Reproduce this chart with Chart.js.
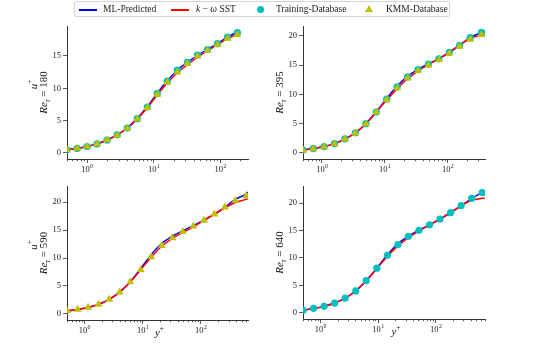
<!DOCTYPE html>
<html>
<head>
<meta charset="utf-8">
<script src="https://cdn.jsdelivr.net/npm/chart.js@4.4.1/dist/chart.umd.min.js"></script>
<style>
  body { margin: 0; background: #fff; }
  #wrap { position: relative; width: 538px; height: 346px; font-family: "Liberation Serif", serif; }
  #wrap canvas { position: absolute; left: 0; top: 0; }
  #legend { position: absolute; left: 74px; top: 1px; width: 374px; height: 14px; border: 1px solid #d4d4d4; border-radius: 2px; font-size: 9.5px; color: #222; }
  #legend .it { position: absolute; top: 0; line-height: 14px; white-space: nowrap; }
  #legend .ln { position: absolute; top: 7px; width: 18px; height: 1.5px; }
  #legend .dot { position: absolute; top: 4px; width: 7px; height: 7px; border-radius: 50%; background: #00bfbf; }
  #legend .tri { position: absolute; top: 3px; width: 0; height: 0; border-left: 4px solid transparent; border-right: 4px solid transparent; border-bottom: 7px solid #bfbf00; }
</style>
</head>
<body>
<div id="wrap">
  <canvas id="c180" width="538" height="346"></canvas>
  <canvas id="c395" width="538" height="346"></canvas>
  <canvas id="c590" width="538" height="346"></canvas>
  <canvas id="c640" width="538" height="346"></canvas>
  <div id="legend">
    <div class="ln" style="left:4px;background:#0000ff"></div>
    <div class="it" style="left:28px">ML-Predicted</div>
    <div class="ln" style="left:96px;background:#ff0000"></div>
    <div class="it" style="left:121px"><i>k</i> − <i>ω</i> SST</div>
    <div class="dot" style="left:182px"></div>
    <div class="it" style="left:201px">Training-Database</div>
    <div class="tri" style="left:290px"></div>
    <div class="it" style="left:311px">KMM-Database</div>
  </div>
</div>
<script>
// ---- data ----
// Re_tau = 180
const yp180 = [0.5, 0.71, 1.0, 1.41, 2.0, 2.83, 4.0, 5.66, 8.0, 11.3, 16.0, 22.6, 32.0, 45.3, 64.0, 90.5, 128, 180];
const train180 = [0.5, 0.7, 1.0, 1.4, 2.0, 2.8, 3.85, 5.3, 7.1, 9.2, 11.1, 12.8, 14.0, 15.15, 16.0, 16.9, 17.9, 18.6];
const kmm180 = [0.5, 0.7, 1.0, 1.4, 2.0, 2.75, 3.8, 5.25, 7.0, 9.05, 10.9, 12.5, 13.8, 14.95, 15.85, 16.75, 17.7, 18.3];
const ml180 = [0.5, 0.71, 1.0, 1.41, 2.0, 2.8, 3.9, 5.35, 7.15, 9.25, 11.15, 12.8, 14.0, 15.1, 16.0, 16.9, 17.9, 18.7, 18.75];
const sst180 = [0.5, 0.71, 1.0, 1.41, 2.0, 2.78, 3.82, 5.25, 7.0, 8.95, 10.8, 12.4, 13.65, 14.8, 15.8, 16.75, 17.7, 18.35, 18.4];

// Re_tau = 395
const yp395 = [0.5, 0.73, 1.08, 1.58, 2.32, 3.4, 5.0, 7.3, 10.7, 15.7, 23.0, 33.7, 49.4, 72.4, 106, 155, 228, 343];
const train395 = [0.5, 0.75, 1.1, 1.6, 2.4, 3.45, 5.0, 7.0, 9.2, 11.3, 13.0, 14.25, 15.2, 16.1, 17.2, 18.4, 19.7, 20.6];
const kmm395 = [0.45, 0.7, 1.05, 1.55, 2.35, 3.4, 4.95, 6.95, 9.1, 11.1, 12.8, 14.05, 15.0, 15.95, 17.0, 18.2, 19.4, 20.2];
const ml395 = [0.5, 0.75, 1.1, 1.6, 2.4, 3.45, 5.0, 7.05, 9.3, 11.45, 13.1, 14.3, 15.25, 16.1, 17.15, 18.4, 19.7, 20.6, 20.8];
const sst395 = [0.5, 0.75, 1.1, 1.6, 2.38, 3.42, 4.95, 6.95, 9.05, 11.0, 12.7, 14.0, 15.1, 16.1, 17.25, 18.45, 19.6, 20.1, 20.15];

// Re_tau = 590
const yp590 = [0.5, 0.76, 1.15, 1.74, 2.65, 4.02, 6.1, 9.25, 14.0, 21.3, 32.3, 49.0, 74.3, 113, 171, 259, 393, 597];
const kmm590 = [0.55, 0.8, 1.15, 1.7, 2.6, 3.9, 5.7, 7.9, 10.2, 12.2, 13.6, 14.75, 15.7, 16.75, 17.85, 19.1, 20.3, 21.1];
const ml590 = [0.5, 0.8, 1.15, 1.7, 2.6, 3.9, 5.75, 8.1, 10.6, 12.6, 13.9, 14.9, 15.8, 16.8, 17.8, 19.1, 20.5, 21.5, 21.8];
const sst590 = [0.5, 0.8, 1.15, 1.7, 2.6, 3.9, 5.7, 7.9, 10.15, 12.1, 13.5, 14.6, 15.6, 16.75, 17.9, 19.0, 19.95, 20.5, 20.6];

// Re_tau = 640
const yp640 = [0.5, 0.76, 1.16, 1.77, 2.69, 4.1, 6.24, 9.5, 14.5, 22.0, 33.5, 51, 78, 118, 180, 275, 418, 637];
const train640 = [0.5, 0.85, 1.2, 1.8, 2.7, 4.0, 5.9, 8.15, 10.5, 12.45, 13.95, 15.05, 16.05, 17.1, 18.25, 19.55, 20.85, 21.9];
const ml640 = [0.5, 0.8, 1.2, 1.8, 2.7, 4.0, 5.9, 8.15, 10.6, 12.6, 14.0, 15.05, 16.05, 17.05, 18.2, 19.5, 20.8, 21.9, 22.0];
const sst640 = [0.5, 0.8, 1.2, 1.8, 2.7, 4.0, 5.85, 8.05, 10.3, 12.2, 13.7, 14.9, 16.0, 17.1, 18.3, 19.5, 20.5, 20.85, 20.9];

const xMajor = [1, 10, 100];
const yTicks180 = [0, 5, 10, 15];
const yTicks = [0, 5, 10, 15, 20];

const BLUE = '#0000ff', RED = '#ff0000', CYAN = '#00bfbf', OLIVE = '#bfbf00', AXIS = '#333';
const YW = 30, XH = 15;
const FONT = '"Liberation Serif", serif';

// matplotlib-ish decorations: minor log ticks, 10^n labels, math axis titles
const mplDecor = {
  id: 'mpl',
  afterDraw(chart, args, opts) {
    const ctx = chart.ctx, xs = chart.scales.x, area = chart.chartArea;
    ctx.save();
    ctx.strokeStyle = AXIS;
    ctx.lineWidth = 0.8;
    for (let d = -1; d <= 3; d++) {
      for (let m = 2; m <= 9; m++) {
        const v = m * Math.pow(10, d);
        if (v < xs.min || v > xs.max) continue;
        const px = Math.round(xs.getPixelForValue(v)) + 0.5;
        ctx.beginPath();
        ctx.moveTo(px, area.bottom);
        ctx.lineTo(px, area.bottom + 2.2);
        ctx.stroke();
      }
    }
    ctx.fillStyle = '#222';
    ctx.textBaseline = 'alphabetic';
    xMajor.forEach(v => {
      const px = xs.getPixelForValue(v);
      const e = String(Math.round(Math.log10(v)));
      ctx.font = '8.5px ' + FONT;
      const w1 = ctx.measureText('10').width;
      ctx.font = '6px ' + FONT;
      const w2 = ctx.measureText(e).width;
      const x0 = px - (w1 + w2) / 2;
      ctx.font = '8.5px ' + FONT;
      ctx.fillText('10', x0, area.bottom + 13);
      ctx.font = '6px ' + FONT;
      ctx.fillText(e, x0 + w1 + 0.3, area.bottom + 9);
    });
    (opts.labels || []).forEach(l => drawMath(ctx, l.parts, l.x, l.y, l.rot));
    ctx.restore();
  }
};

function drawMath(ctx, parts, cx, cy, rot) {
  ctx.save();
  ctx.translate(cx, cy);
  if (rot) ctx.rotate(-Math.PI / 2);
  let total = 0;
  parts.forEach(p => { ctx.font = p.f + ' ' + FONT; p.w = ctx.measureText(p.t).width; total += p.w; });
  let x = -total / 2;
  ctx.fillStyle = '#111';
  ctx.textBaseline = 'alphabetic';
  parts.forEach(p => {
    ctx.font = p.f + ' ' + FONT;
    ctx.fillText(p.t, x, 3.8 + (p.dy || 0));
    x += p.w;
  });
  ctx.restore();
}

function reLabel(n) {
  return [{t: 'Re', f: 'italic 11px'}, {t: 'τ', f: 'italic 7.5px', dy: 2.5}, {t: ' = ' + n, f: '11px'}];
}
const uLabel = [{t: 'u', f: 'italic 11px'}, {t: '+', f: '7.5px', dy: -4.5}];
const yLabel = [{t: 'y', f: 'italic 11px'}, {t: '+', f: '7.5px', dy: -4.5}];

function pts(xv, yv) {
  return yv.map((y, i) => ({x: xv[i], y: y}));
}

function panel(id, o) {
  const lineX = o.x.concat([o.xEnd]);
  const ds = [];
  if (o.kmm) ds.push({type: 'scatter', label: 'KMM-Database', data: pts(o.x, o.kmm), pointStyle: 'triangle',
    pointRadius: 4.6, backgroundColor: OLIVE, pointBorderWidth: 0, order: 0, clip: 0});
  if (o.train) ds.push({type: 'scatter', label: 'Training-Database', data: pts(o.x, o.train), pointStyle: 'circle',
    pointRadius: 3.6, backgroundColor: CYAN, pointBorderWidth: 0, order: 1, clip: 0});
  ds.push({type: 'line', label: 'k − ω SST', data: pts(lineX, o.sst), borderColor: RED, borderWidth: 1.5,
    pointRadius: 0, cubicInterpolationMode: 'monotone', order: 2, clip: 0});
  ds.push({type: 'line', label: 'ML-Predicted', data: pts(lineX, o.ml), borderColor: BLUE, borderWidth: 1.5,
    pointRadius: 0, cubicInterpolationMode: 'monotone', order: 3, clip: 0});

  const b = o.box;
  const labels = [];
  const cy = (b[1] + b[3]) / 2;
  if (o.u) labels.push({parts: uLabel, x: b[0] - 34, y: cy - 8, rot: true});
  labels.push({parts: reLabel(o.re), x: b[0] - 23.5, y: cy, rot: true});
  if (o.xlab) labels.push({parts: yLabel, x: (b[0] + b[2]) / 2 + 2, y: b[3] + 12, rot: false});

  new Chart(document.getElementById(id), {
    type: 'scatter',
    data: {datasets: ds},
    options: {
      responsive: false,
      animation: false,
      events: [],
      layout: {padding: {left: b[0] - YW, top: b[1], right: 538 - b[2], bottom: 346 - b[3] - XH}},
      plugins: {legend: {display: false}, tooltip: {enabled: false}, mpl: {labels: labels}},
      scales: {
        x: {
          type: 'logarithmic', min: o.xMin, max: o.xMax,
          afterBuildTicks: s => { s.ticks = xMajor.map(v => ({value: v})); },
          afterFit: s => { s.height = XH; },
          ticks: {display: false},
          grid: {drawOnChartArea: false, tickLength: 4, tickColor: AXIS, tickWidth: 0.8},
          border: {color: AXIS, width: 1}
        },
        y: {
          min: o.yMin, max: o.yMax,
          afterBuildTicks: s => { s.ticks = o.yTicks.map(v => ({value: v})); },
          afterFit: s => { s.width = YW; },
          ticks: {font: {family: FONT, size: 8.5}, color: '#222', padding: 2},
          grid: {drawOnChartArea: false, tickLength: 4, tickColor: AXIS, tickWidth: 0.8},
          border: {color: AXIS, width: 1}
        }
      }
    },
    plugins: [mplDecor]
  });
}

panel('c180', {x: yp180, xEnd: 185, train: train180, kmm: kmm180, ml: ml180, sst: sst180, re: 180, u: true,
  box: [67, 26, 248, 159], xMin: 0.5, xMax: 260, yMin: -0.93, yMax: 19.63, yTicks: yTicks180});
panel('c395', {x: yp395, xEnd: 390, train: train395, kmm: kmm395, ml: ml395, sst: sst395, re: 395,
  box: [303, 26, 485, 159], xMin: 0.5, xMax: 392, yMin: -1.03, yMax: 21.7, yTicks: yTicks});
panel('c590', {x: yp590, xEnd: 640, kmm: kmm590, ml: ml590, sst: sst590, re: 590, u: true, xlab: true,
  box: [67, 186, 248, 320], xMin: 0.5, xMax: 646, yMin: -1.1, yMax: 22.9, yTicks: yTicks});
panel('c640', {x: yp640, xEnd: 705, train: train640, ml: ml640, sst: sst640, re: 640, xlab: true,
  box: [303, 186, 485, 319], xMin: 0.5, xMax: 711, yMin: -1.1, yMax: 23.1, yTicks: yTicks});
</script>
</body>
</html>
